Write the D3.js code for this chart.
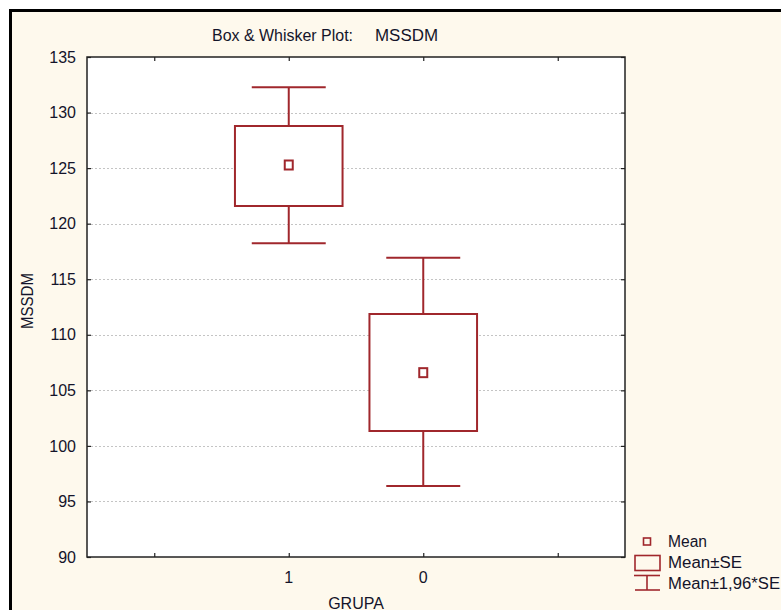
<!DOCTYPE html>
<html>
<head>
<meta charset="utf-8">
<script src="https://cdn.jsdelivr.net/npm/d3@7"></script>
<style>
  html, body { margin: 0; padding: 0; background: #ffffff; }
  svg { display: block; }
  text { font-family: "Liberation Sans", Arial, sans-serif; fill: #14142a; }
</style>
</head>
<body>
<svg id="chart" width="781" height="610"></svg>
<script>
// ---- data ----
const groups = ["1", "0"];
const groupPos = [2, 3];
const means = [125.28, 106.59];
const seHigh = [128.79, 111.87];
const seLow = [121.59, 101.34];
const ciHigh = [132.27, 116.94];
const ciLow = [118.23, 96.39];
const yTicks = [90, 95, 100, 105, 110, 115, 120, 125, 130, 135];
const xTickPos = [1, 2, 3, 4];
const xTickLabels = ["", "1", "0", ""];
const legendLabels = ["Mean", "Mean\u00b1SE", "Mean\u00b11,96*SE"];

const red = "#a0272c";
const svg = d3.select("#chart");

// outer frame
svg.append("rect").attr("x", 10.5).attr("y", 10.5).attr("width", 820).attr("height", 640)
  .attr("fill", "#fef9ed").attr("stroke", "#000").attr("stroke-width", 3);

const L = 87, R = 625, T = 57, B = 557;
const x = d3.scaleLinear().domain([0.5, 4.5]).range([L, R]);
const y = d3.scaleLinear().domain([90, 135]).range([B, T]);

// plot area
svg.append("rect").attr("x", L).attr("y", T).attr("width", R - L).attr("height", B - T)
  .attr("fill", "#ffffff");

// gridlines
svg.append("g").selectAll("line").data(yTicks.filter(d => d > 90 && d < 135)).join("line")
  .attr("x1", L).attr("x2", R)
  .attr("y1", d => Math.round(y(d)) + 0.5).attr("y2", d => Math.round(y(d)) + 0.5)
  .attr("stroke", "#c4c4c4").attr("stroke-width", 1).attr("stroke-dasharray", "2,2");

// axes (ticks inward)
const yAxisL = d3.axisLeft(y).tickValues(yTicks).tickSize(0).tickPadding(11).tickFormat(d3.format("d"));
const gy = svg.append("g").attr("transform", `translate(${L},0)`).call(yAxisL);
gy.select(".domain").remove();
gy.selectAll("text").attr("font-size", "16px").attr("fill", "#14142a")
  .attr("font-family", "Liberation Sans, Arial, sans-serif");

const gyr = svg.append("g").attr("transform", `translate(${L},0)`)
  .call(d3.axisRight(y).tickValues(yTicks).tickSize(4).tickFormat(""));
gyr.select(".domain").remove();
const gyr2 = svg.append("g").attr("transform", `translate(${R},0)`)
  .call(d3.axisLeft(y).tickValues(yTicks).tickSize(4).tickFormat(""));
gyr2.select(".domain").remove();

const gxb = svg.append("g").attr("transform", `translate(0,${B})`)
  .call(d3.axisTop(x).tickValues(xTickPos).tickSize(4).tickFormat(""));
gxb.select(".domain").remove();
const gxt = svg.append("g").attr("transform", `translate(0,${T})`)
  .call(d3.axisBottom(x).tickValues(xTickPos).tickSize(4).tickFormat(""));
gxt.select(".domain").remove();
svg.selectAll(".tick line").attr("stroke", "#222").attr("stroke-width", 1.2);

// x tick labels
svg.append("g").selectAll("text").data(xTickPos).join("text")
  .attr("x", d => x(d)).attr("y", 583).attr("text-anchor", "middle")
  .attr("font-size", "16px").text((d, i) => xTickLabels[i]);

// plot border
svg.append("rect").attr("x", L).attr("y", T).attr("width", R - L).attr("height", B - T)
  .attr("fill", "none").attr("stroke", "#222").attr("stroke-width", 1.5);

// whiskers and boxes
const boxW = 0.8, capW = 0.55;
const gb = svg.append("g");
groups.forEach((g, i) => {
  const cx = x(groupPos[i]);
  const hw = (x(boxW) - x(0)) / 2;
  const cw = (x(capW) - x(0)) / 2;
  gb.append("line").attr("x1", cx).attr("x2", cx).attr("y1", y(ciHigh[i])).attr("y2", y(ciLow[i]))
    .attr("stroke", red).attr("stroke-width", 2);
  gb.append("line").attr("x1", cx - cw).attr("x2", cx + cw).attr("y1", y(ciHigh[i])).attr("y2", y(ciHigh[i]))
    .attr("stroke", red).attr("stroke-width", 2);
  gb.append("line").attr("x1", cx - cw).attr("x2", cx + cw).attr("y1", y(ciLow[i])).attr("y2", y(ciLow[i]))
    .attr("stroke", red).attr("stroke-width", 2);
  gb.append("rect").attr("x", cx - hw).attr("width", 2 * hw)
    .attr("y", y(seHigh[i])).attr("height", y(seLow[i]) - y(seHigh[i]))
    .attr("fill", "#ffffff").attr("stroke", red).attr("stroke-width", 2);
  gb.append("rect").attr("x", cx - 4).attr("y", y(means[i]) - 4.5).attr("width", 8).attr("height", 9)
    .attr("fill", "#ffffff").attr("stroke", red).attr("stroke-width", 2);
});

// title
svg.append("text").attr("x", 212).attr("y", 41).attr("font-size", "16px")
  .attr("textLength", 141).attr("lengthAdjust", "spacingAndGlyphs").text("Box & Whisker Plot:");
svg.append("text").attr("x", 375).attr("y", 41).attr("font-size", "16px")
  .attr("textLength", 63).attr("lengthAdjust", "spacingAndGlyphs").text("MSSDM");

// axis titles
svg.append("text").attr("transform", "translate(33,301) rotate(-90)").attr("text-anchor", "middle")
  .attr("font-size", "16px").attr("textLength", 56).attr("lengthAdjust", "spacingAndGlyphs").text("MSSDM");
svg.append("text").attr("x", (L + R) / 2).attr("y", 609).attr("text-anchor", "middle")
  .attr("font-size", "16px").text("GRUPA");

// legend
const lg = svg.append("g");
lg.append("rect").attr("x", 643.5).attr("y", 538).attr("width", 7).attr("height", 7)
  .attr("fill", "none").attr("stroke", red).attr("stroke-width", 1.6);
lg.append("rect").attr("x", 635).attr("y", 555.5).attr("width", 25).attr("height", 15)
  .attr("fill", "none").attr("stroke", red).attr("stroke-width", 1.6);
lg.append("line").attr("x1", 634).attr("x2", 660).attr("y1", 575.5).attr("y2", 575.5).attr("stroke", red).attr("stroke-width", 1.6);
lg.append("line").attr("x1", 647).attr("x2", 647).attr("y1", 575.5).attr("y2", 590).attr("stroke", red).attr("stroke-width", 1.6);
lg.append("line").attr("x1", 635).attr("x2", 660).attr("y1", 590).attr("y2", 590).attr("stroke", red).attr("stroke-width", 1.6);
lg.selectAll("text").data(legendLabels).join("text")
  .attr("x", 668).attr("y", (d, i) => 547 + i * 21).attr("font-size", "16px")
  .attr("textLength", (d, i) => [39, 74, 112][i]).attr("lengthAdjust", "spacingAndGlyphs")
  .text(d => d);
</script>
</body>
</html>
